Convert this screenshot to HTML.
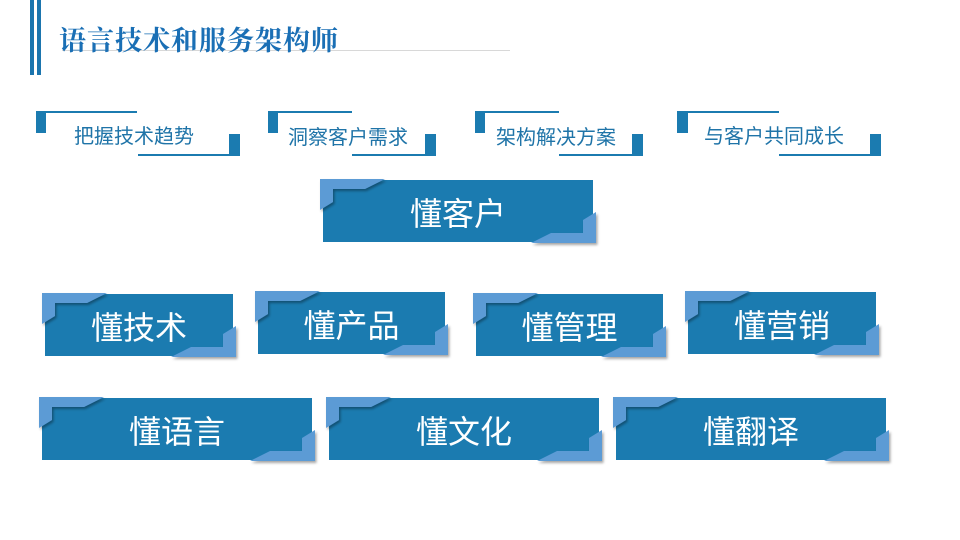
<!DOCTYPE html>
<html><head><meta charset="utf-8"><style>
body{margin:0;width:960px;height:540px;background:#fff;overflow:hidden;position:relative;font-family:"Liberation Sans","Noto Sans CJK SC",sans-serif}
.t{position:absolute;font-size:20px;color:#1f74a8;white-space:nowrap;line-height:24px}
.b{position:absolute;color:#fff;font-size:32px;text-align:center;line-height:62px}
</style></head><body>
<svg width="960" height="540" style="position:absolute;left:0;top:0">
<defs><filter id="s" x="-10%" y="-10%" width="130%" height="140%"><feDropShadow dx="1.5" dy="2" stdDeviation="1.2" flood-color="#000" flood-opacity="0.35"/></filter></defs>
<rect x="30" y="0" width="4" height="75" fill="#1b75ae"/>
<rect x="37" y="0" width="4" height="75" fill="#1b75ae"/>
<rect x="62" y="50" width="448" height="1" fill="#d8d8d8"/>
<g fill="#1b7bb0">
<rect x="36" y="111" width="10" height="22"/><rect x="46" y="111" width="91" height="2"/><rect x="138" y="154" width="91" height="2"/><rect x="229" y="134" width="11" height="22"/>
<rect x="268" y="111" width="10" height="22"/><rect x="278" y="111" width="74" height="2"/><rect x="352" y="154" width="73" height="2"/><rect x="425" y="134" width="11" height="22"/>
<rect x="475" y="111" width="10" height="22"/><rect x="485" y="111" width="74" height="2"/><rect x="559" y="154" width="73" height="2"/><rect x="632" y="134" width="11" height="22"/>
<rect x="677" y="111" width="11" height="22"/><rect x="688" y="111" width="91" height="2"/><rect x="779" y="154" width="91" height="2"/><rect x="870" y="134" width="11" height="22"/>
</g>
<g id="boxes"></g>
</svg>
<div style="position:absolute;left:59px;top:19px;font-family:'Noto Serif CJK SC','Liberation Serif',serif;font-weight:bold;font-size:27px;color:#1a6fb5;letter-spacing:1px">语言技术和服务架构师</div>
<div class="t" style="left:74px;top:125px">把握技术趋势</div>
<div class="t" style="left:288px;top:126px">洞察客户需求</div>
<div class="t" style="left:496px;top:126px">架构解决方案</div>
<div class="t" style="left:704px;top:125px">与客户共同成长</div>
<script>
var B=[[323,180,270,62,"懂客户"],[45,294,188,62,"懂技术"],[258,292,187,62,"懂产品"],[476,294,187,62,"懂管理"],[688,292,188,62,"懂营销"],[42,398,270,62,"懂语言"],[329,398,270,62,"懂文化"],[616,398,270,62,"懂翻译"]];
var g=document.getElementById('boxes'),h='';
B.forEach(function(b){var x=b[0],y=b[1],w=b[2],H=b[3];
h+='<rect x="'+x+'" y="'+y+'" width="'+w+'" height="'+H+'" fill="#1b7bb0"/>';
h+='<polygon filter="url(#s)" fill="#5b9bd5" points="'+(x-3)+','+(y-1)+' '+(x+62)+','+(y-1)+' '+(x+42)+','+(y+9)+' '+(x+10)+','+(y+9)+' '+(x+10)+','+(y+22)+' '+(x-3)+','+(y+30)+'"/>';
h+='<polygon filter="url(#s)" fill="#5b9bd5" points="'+(x+w+3)+','+(y+H+1)+' '+(x+w-62)+','+(y+H+1)+' '+(x+w-42)+','+(y+H-9)+' '+(x+w-10)+','+(y+H-9)+' '+(x+w-10)+','+(y+H-22)+' '+(x+w+3)+','+(y+H-30)+'"/>';
var d=document.createElement('div');d.className='b';d.style.left=x+'px';d.style.top=(y+3)+'px';d.style.width=w+'px';d.textContent=b[4];document.body.appendChild(d);
});
g.innerHTML=h;
</script>
</body></html>
